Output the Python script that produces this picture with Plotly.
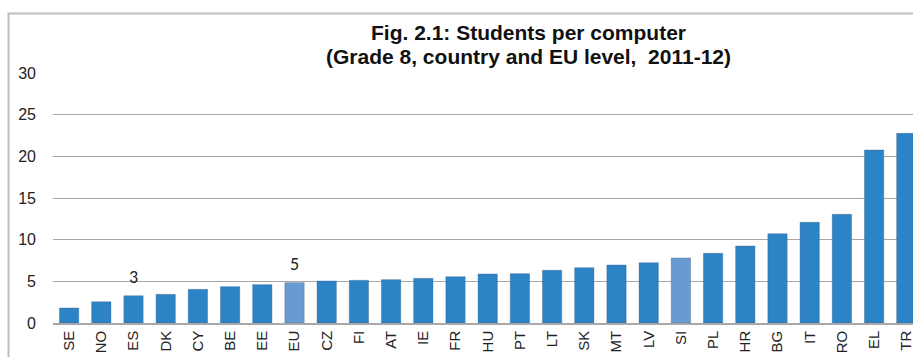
import plotly.graph_objects as go

countries = ["SE", "NO", "ES", "DK", "CY", "BE", "EE", "EU", "CZ", "FI", "AT", "IE", "FR",
             "HU", "PT", "LT", "SK", "MT", "LV", "SI", "PL", "HR", "BG", "IT", "RO", "EL", "TR"]
students_per_computer = [1.8, 2.55, 3.27, 3.44, 4.04, 4.36, 4.6, 4.84, 5.04, 5.12, 5.2, 5.36, 5.56,
                         5.88, 5.92, 6.32, 6.64, 6.96, 7.24, 7.8, 8.36, 9.24, 10.72, 12.08, 13.04, 20.76, 22.76]
value_labels = ["", "", "3", "", "", "", "", "5", "", "", "", "", "",
                "", "", "", "", "", "", "", "", "", "", "", "", "", ""]
highlight = ["EU", "SI"]
y_ticks = [0, 5, 10, 15, 20, 25, 30]

MAIN = "#2C84C6"
LIGHT = "#6A9BD0"
colors = [LIGHT if c in highlight else MAIN for c in countries]

W, H = 913, 357
ml, mr, mt, mb = 53, 0, 73, 34
pw = W - ml - mr
ph = H - mt - mb
step = 32.2  # pixels per category

fig = go.Figure()
fig.add_trace(go.Bar(
    x=countries, y=students_per_computer,
    marker=dict(color=colors, line=dict(color="rgba(60,90,130,0.6)", width=0.6)),
    hoverinfo="x+y",
))

for c, v, lab in zip(countries, students_per_computer, value_labels):
    if lab:
        fig.add_annotation(x=c, y=v, text=lab, showarrow=False, yanchor="bottom",
                           yshift=6, font=dict(family="Carlito, Liberation Sans, Arial", size=18, color="#222"))

def px_x(p):
    return (p - ml) / pw

def px_y(p):
    return (H - mb - p) / ph

# outer chart border (extends beyond the visible window)
fig.add_shape(type="rect", xref="paper", yref="paper",
              x0=px_x(8.5), x1=px_x(W + 20), y0=px_y(H + 20), y1=px_y(13.5),
              line=dict(color="#BDBDBD", width=2), fillcolor="rgba(0,0,0,0)", layer="below")

fig.add_annotation(xref="paper", yref="paper", x=px_x(528), y=px_y(32), xanchor="center", yanchor="middle",
                   text="<b>Fig. 2.1: Students per computer</b>", showarrow=False,
                   font=dict(family="Liberation Sans, Arial", size=21, color="#111"))
fig.add_annotation(xref="paper", yref="paper", x=px_x(528), y=px_y(57), xanchor="center", yanchor="middle",
                   text="<b>(Grade 8, country and EU level,  2011-12)</b>", showarrow=False,
                   font=dict(family="Liberation Sans, Arial", size=21, color="#111"))

fig.update_layout(
    width=W, height=H,
    margin=dict(l=ml, r=mr, t=mt, b=mb, pad=0),
    paper_bgcolor="white", plot_bgcolor="white",
    bargap=0.4,
    showlegend=False,
    font=dict(family="Liberation Sans, Arial", size=15, color="#222"),
)
fig.update_xaxes(
    type="category", range=[-0.5, -0.5 + pw / step],
    tickangle=-90, tickfont=dict(size=15, color="#222"),
    showline=True, linecolor="#A8A8A8", linewidth=1.5,
    ticks="", showgrid=False,
)
fig.update_yaxes(
    range=[0, 30], tickvals=y_ticks, ticktext=[str(t) for t in y_ticks],
    showgrid=True, gridcolor="#A8A8A8", gridwidth=1.3,
    zeroline=False, showline=False, ticks="",
    ticklabelstandoff=16, tickfont=dict(size=16, color="#222"),
)

fig.write_html("out.html")
